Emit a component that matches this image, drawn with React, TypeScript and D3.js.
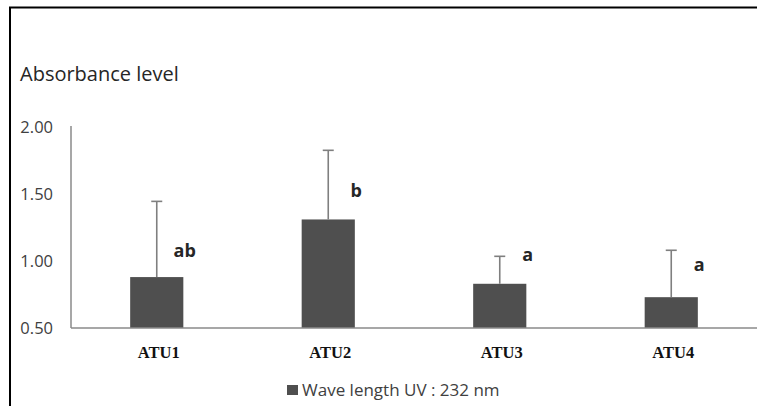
import React from "react";
import * as d3 from "d3";

const categories = ["ATU1", "ATU2", "ATU3", "ATU4"];
const means = [0.88, 1.31, 0.83, 0.73];
const errorTops = [1.445, 1.826, 1.035, 1.08];
const groupLetters = ["ab", "b", "a", "a"];
const letterY = [1.08, 1.528, 1.05, 0.975];
const yTicks = [0.5, 1.0, 1.5, 2.0];
const yTitle = "Absorbance level";
const legendLabel = "Wave length UV : 232 nm";

const W = 757;
const H = 406;
const plotLeft = 71;
const plotRight = 757;
const plotTop = 127;
const plotBottom = 328;

export default function App() {
  const x = d3.scaleBand<string>().domain(categories).range([plotLeft, plotRight]).paddingInner(0.69).paddingOuter(0.345);
  const xc = d3.scaleBand<string>().domain(categories).range([plotLeft, plotRight]);
  const y = d3.scaleLinear().domain([0.5, 2.0]).range([plotBottom, plotTop]);
  const sans = "'Open Sans', sans-serif";
  const barColor = "#4f4f4f";
  const errColor = "#7f7f7f";
  return (
    <svg width={W} height={H} style={{ position: "absolute", left: 0, top: 0, background: "#fff" }}>
      {/* frame */}
      <line x1={9} y1={7.5} x2={W} y2={7.5} stroke="#000" strokeWidth={2} />
      <line x1={10} y1={7} x2={10} y2={H} stroke="#000" strokeWidth={2} />
      <text x={20} y={74} dy="0.35em" fontFamily={sans} fontSize={20} fill="#262626">{yTitle}</text>
      {/* y ticks */}
      {yTicks.map((t) => (
        <text key={t} x={53} y={y(t)} dy="0.35em" textAnchor="end" fontFamily={sans} fontSize={16.5} fill="#404040">
          {d3.format(".2f")(t)}
        </text>
      ))}
      {/* bars */}
      {categories.map((c, i) => (
        <rect key={c} x={x(c)} y={y(means[i])} width={x.bandwidth()} height={plotBottom - y(means[i])} fill={barColor} />
      ))}
      {/* error bars */}
      {categories.map((c, i) => {
        const cx = (xc(c) as number) + xc.bandwidth() / 2;
        return (
          <g key={c} stroke={errColor} strokeWidth={1.6}>
            <line x1={cx} x2={cx} y1={y(means[i])} y2={y(errorTops[i])} />
            <line x1={cx - 5.5} x2={cx + 5.5} y1={y(errorTops[i])} y2={y(errorTops[i])} />
          </g>
        );
      })}
      {/* axes */}
      <line x1={plotLeft} x2={plotLeft} y1={plotTop - 1} y2={plotBottom} stroke="#8a8a8a" strokeWidth={1.5} />
      <line x1={plotLeft} x2={plotRight} y1={plotBottom} y2={plotBottom} stroke="#8a8a8a" strokeWidth={1.5} />
      {/* letters */}
      {categories.map((c, i) => {
        const cx = (xc(c) as number) + xc.bandwidth() / 2;
        return (
          <text key={c} x={cx + 28} y={y(letterY[i])} dy="0.35em" textAnchor="middle" fontFamily={sans} fontWeight="bold" fontSize={18} fill="#262626">
            {groupLetters[i]}
          </text>
        );
      })}
      {/* category labels */}
      {categories.map((c) => {
        const cx = (xc(c) as number) + xc.bandwidth() / 2;
        return (
          <text key={c} x={cx + 2} y={352} dy="0.35em" textAnchor="middle" fontFamily="'Liberation Serif', 'Times New Roman', serif" fontWeight="bold" fontSize={16.5} fill="#111">
            {c}
          </text>
        );
      })}
      {/* legend */}
      <rect x={287} y={385} width={11} height={10} fill={barColor} />
      <text x={302} y={390} dy="0.35em" fontFamily={sans} fontSize={17} fill="#404040">{legendLabel}</text>
    </svg>
  );
}
